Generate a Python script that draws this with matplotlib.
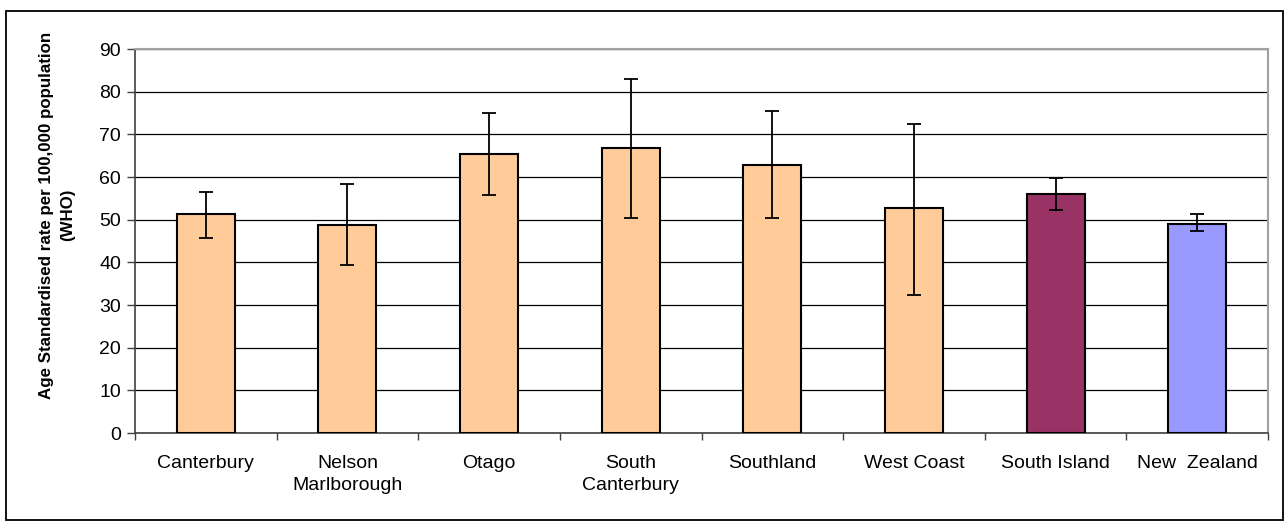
import matplotlib
matplotlib.use('Agg')
import matplotlib.pyplot as plt
from matplotlib.patches import Rectangle

matplotlib.rc('font', family=['Liberation Sans', 'DejaVu Sans'])

categories = ['Canterbury', 'Nelson\nMarlborough', 'Otago', 'South\nCanterbury',
              'Southland', 'West Coast', 'South Island', 'New  Zealand']
rates = [51.3, 48.7, 65.3, 66.7, 62.7, 52.7, 55.9, 49.1]
ci_low = [45.6, 39.4, 55.8, 50.5, 50.5, 32.4, 52.3, 47.4]
ci_high = [56.6, 58.4, 75.0, 83.0, 75.5, 72.5, 59.7, 51.4]
colours = ['#FFCC99'] * 6 + ['#993366', '#9999FF']

fig = plt.figure(figsize=(12.84, 5.24), dpi=100)
ax = fig.add_axes([135 / 1284, 91 / 524, 1133 / 1284, 384 / 524])

x = list(range(len(categories)))
err = [[r - lo for r, lo in zip(rates, ci_low)],
       [hi - r for r, hi in zip(rates, ci_high)]]
ax.bar(x, rates, width=0.41, color=colours, edgecolor='black', linewidth=1.5, zorder=3)
ax.errorbar(x, rates, yerr=err, fmt='none', ecolor='black', elinewidth=1.3,
            capsize=5, capthick=1.3, zorder=4)

ax.set_xlim(-0.5, len(categories) - 0.5)
ax.set_ylim(0, 90)
ax.set_yticks(range(0, 91, 10))
ax.yaxis.grid(True, color='black', linewidth=0.9, zorder=0)
ax.set_axisbelow(True)

# category labels centred, ticks between categories
ax.set_xticks(x)
ax.set_xticklabels(categories, fontsize=14, linespacing=1.45)
ax.tick_params(axis='x', which='major', length=0, pad=15.5)
ax.set_xticks([i - 0.5 for i in range(len(categories) + 1)], minor=True)
ax.tick_params(axis='x', which='minor', length=5, width=1, color='#404040', direction='out')
ax.tick_params(axis='y', labelsize=14, length=6, width=1, color='#404040', pad=4)

for side in ['top', 'right']:
    ax.spines[side].set_color('#A0A0A0')
    ax.spines[side].set_linewidth(1.5)
for side in ['left', 'bottom']:
    ax.spines[side].set_color('#404040')
    ax.spines[side].set_linewidth(1.2)

fig.text(57 / 1284, 1 - 215 / 524,
         'Age Standardised rate per 100,000 population\n(WHO)',
         rotation=90, ha='center', va='center', fontsize=12.2,
         fontweight='bold', linespacing=1.5)

# outer chart border
fig.patches.append(Rectangle((6 / 1284, 4 / 524), 1277 / 1284, 509 / 524,
                             transform=fig.transFigure, fill=False,
                             edgecolor='black', linewidth=1.3))

fig.savefig('out.png', dpi=100)
